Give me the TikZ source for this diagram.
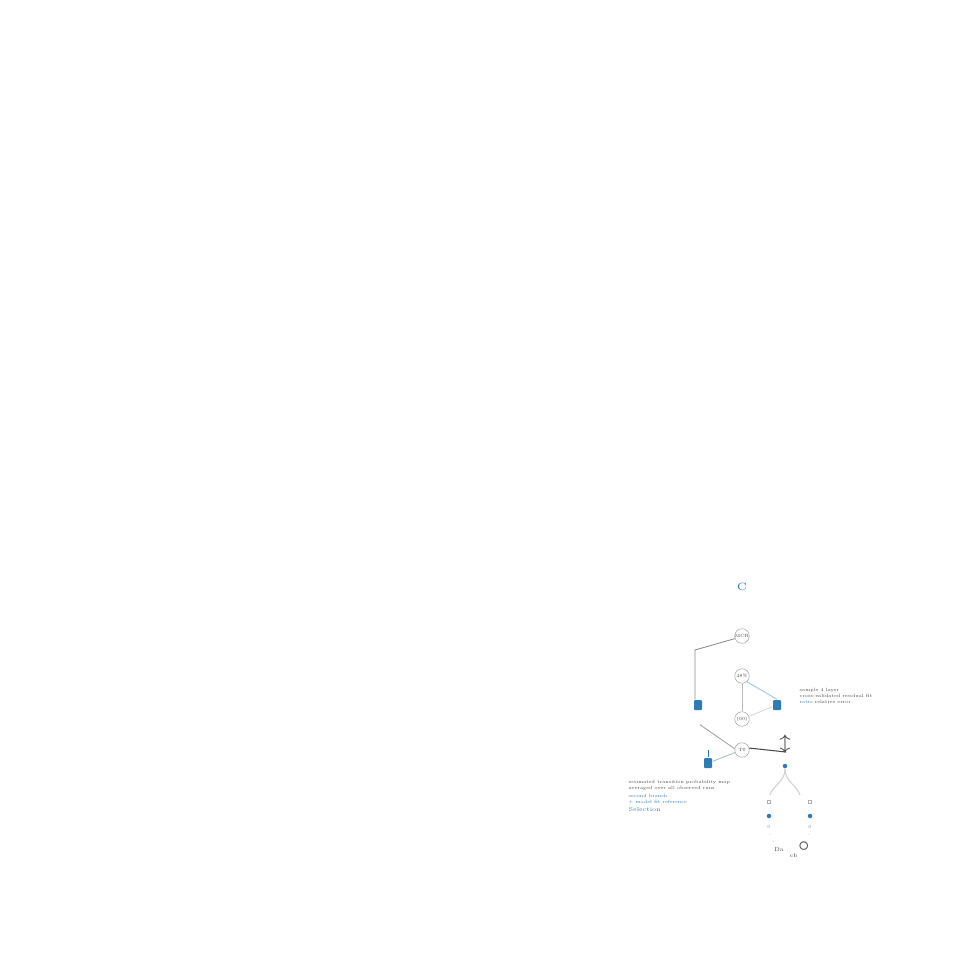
\documentclass[tikz,border=0pt]{standalone}
\usepackage{amsmath}
\usepackage{amssymb}
\usepackage{tikz}
\usepackage{xcolor}

\definecolor{stepblue}{HTML}{2F7BB6}
\definecolor{paleblue}{HTML}{A9CDE3}
\definecolor{linegray}{HTML}{8C8C8C}
\definecolor{textgray}{HTML}{4A4A4A}

\begin{document}
\begin{tikzpicture}[x=0.1mm,y=-0.1mm,font=\fontsize{1.3}{1.7}\selectfont]
    \fill[white] (0,0) rectangle (960,960);
    \useasboundingbox (0,0) rectangle (960,960);

    % states
    \node[text=stepblue,font=\fontsize{3}{3}\selectfont] (top) at (742,587) {C};
    \foreach \name/\y/\txt in {mcr/636/MCR, pct/676/48\%, mid/719/(00), low/750/T0}
        \node[circle,draw=linegray!80,line width=0.15pt,minimum size=1.45mm,inner sep=0pt,text=textgray] (\name) at (742,\y) {\txt};

    % blocks
    \node[fill=stepblue,rounded corners=0.1mm,minimum width=0.8mm,minimum height=1mm,inner sep=0pt] (sqa) at (698,705) {};
    \node[fill=stepblue,rounded corners=0.1mm,minimum width=0.8mm,minimum height=1mm,inner sep=0pt] (sqb) at (777,705) {};
    \node[fill=stepblue,rounded corners=0.1mm,minimum width=0.8mm,minimum height=1mm,inner sep=0pt] (sqc) at (708,763) {};

    \coordinate (bend) at (695,650);
    \coordinate (tick) at (786,752);
    \node[circle,fill=stepblue,inner sep=0pt,minimum size=0.45mm] (fork) at (785,766) {};

    % connectors
    \draw[linegray,line width=0.25pt] (mcr.200) -- (bend) -- (bend |- sqa.north);
    \draw[linegray!80,line width=0.25pt] (sqa.south) ++(2,14) -- (low.170);
    \draw[paleblue,line width=0.3pt] (pct.-50) -- (sqb.north);
    \draw[linegray!60,line width=0.2pt] (pct.south) -- (mid.north);
    \draw[linegray!40,line width=0.2pt] (mid.20) -- (sqb.200);
    \draw[paleblue!80!gray,line width=0.25pt] (low.200) -- (sqc.20);
    \draw[stepblue,line width=0.2pt] (sqc.north) -- ++(0,-7);
    \draw[textgray,line width=0.3pt] (low.15) -- (tick);
    \node[text=textgray,font=\fontsize{2}{2}\selectfont] (arr) at (785,744) {$\updownarrow$};
    \draw[paleblue,line width=0.2pt,dotted] (tick) -- (fork);

    % branches
    \draw[linegray!40,line width=0.3pt] (fork) .. controls (785,782) and (773,785) .. (770,795);
    \draw[linegray!40,line width=0.3pt] (fork) .. controls (785,782) and (797,785) .. (800,795);
    \foreach \x in {769,810} {
        \node[draw=linegray!70,line width=0.1pt,minimum size=0.3mm,inner sep=0pt] at (\x,802) {};
        \node[circle,fill=stepblue,inner sep=0pt,minimum size=0.45mm] at (\x,816) {};
        \node[text=linegray] at (\x,827) {0};
    }
    \draw[linegray!40,line width=0.2pt,dotted] (770,834) -- (775,845);
    \draw[linegray!40,line width=0.2pt,dotted] (809,834) -- (804,845);
    \node[text=textgray,font=\fontsize{1.6}{1.6}\selectfont] (leaf1) at (779,850) {Da};
    \node[text=textgray,font=\fontsize{1.6}{1.6}\selectfont] (leaf2) at (801,850) {cb$^{\circ}$};

    % notes
    \node[anchor=north west,align=left,inner sep=0pt,text=textgray] (notea) at (799,688)
        {sample 4 layer\\ cross-validated residual fit\\ \textcolor{stepblue}{ratio} relative error};
    \node[anchor=north west,align=left,inner sep=0pt,text=textgray] (noteb) at (628,780)
        {estimated transition probability map\\ averaged over all observed runs\\[0.5pt]
         \textcolor{stepblue}{second branch}\\ \textcolor{stepblue}{+ model fit reference}\\[0.5pt]
         \textcolor{stepblue}{\fontsize{1.7}{2}\selectfont Selection}};
\end{tikzpicture}
\end{document}
